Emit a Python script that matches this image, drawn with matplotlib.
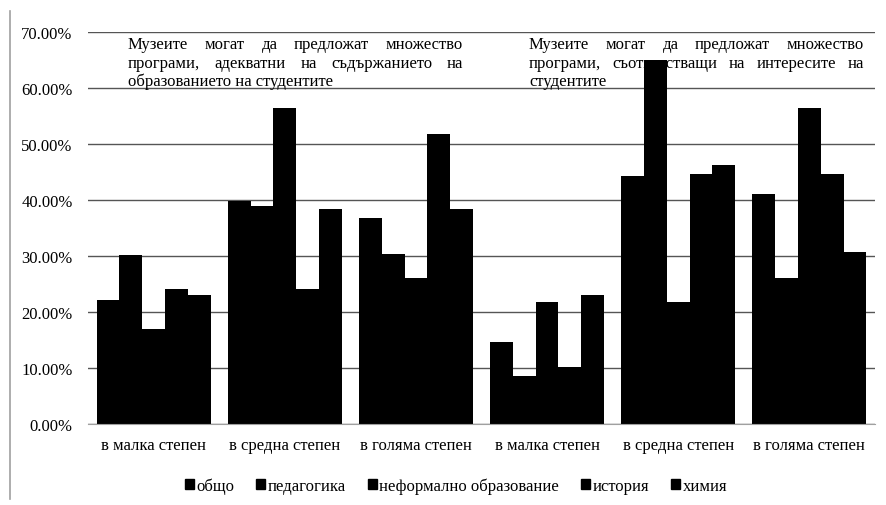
import numpy as np
import matplotlib
matplotlib.use("Agg")
import matplotlib.pyplot as plt
from matplotlib.patches import Patch
from matplotlib.lines import Line2D

plt.rcParams['font.family'] = ['Liberation Serif', 'DejaVu Serif']

categories = ["в малка степен", "в средна степен", "в голяма степен",
              "в малка степен", "в средна степен", "в голяма степен"]
series_names = ["общо", "педагогика", "неформално образование", "история", "химия"]

# values in percent, one list per series (6 groups)
obshto = [22.1, 39.9, 36.8, 14.7, 44.3, 41.0]
pedagogika = [30.1, 39.0, 30.3, 8.6, 65.0, 26.0]
neformalno = [17.0, 56.5, 26.0, 21.8, 21.8, 56.5]
istoria = [24.1, 24.1, 51.7, 10.25, 44.7, 44.7]
himia = [23.1, 38.4, 38.4, 23.1, 46.2, 30.7]
series = [obshto, pedagogika, neformalno, istoria, himia]

yticks = [0, 10, 20, 30, 40, 50, 60, 70]

note_left = [
    "Музеите могат да предложат множество",
    "програми, адекватни на съдържанието на",
    "образованието на студентите",
]
note_right = [
    "Музеите могат да предложат множество",
    "програми, съответстващи на интересите на",
    "студентите",
]

W, H = 886, 506
fig = plt.figure(figsize=(W / 100, H / 100), dpi=100)
ax = fig.add_axes([88 / W, 1 - 425 / H, (875 - 88) / W, (425 - 33) / H])

x = np.arange(len(categories))
bw = 0.87 / len(series)
for i, vals in enumerate(series):
    ax.bar(x - 0.435 + bw * (i + 0.5), vals, width=bw, color='black',
           label=series_names[i], zorder=3)

ax.set_xlim(-0.5, len(categories) - 0.5)
ax.set_ylim(0, 70)
ax.set_yticks(yticks)
ax.set_yticklabels([f"{v:.2f}%" for v in yticks], fontsize=12)
ax.set_xticks(x)
ax.set_xticklabels(categories, fontsize=12)
ax.tick_params(length=0)
ax.tick_params(axis='y', pad=11)
ax.tick_params(axis='x', pad=9)
ax.yaxis.grid(True, color='#555555', linewidth=1)
ax.set_axisbelow(True)
for s in ['left', 'right', 'top']:
    ax.spines[s].set_visible(False)
ax.spines['bottom'].set_color('#a0a0a0')
ax.spines['bottom'].set_zorder(4)

# chart border line on the left
fig.add_artist(Line2D([9.5 / W, 9.5 / W], [1 - 12 / H, 1 - 500 / H],
                      color='#a0a0a0', linewidth=1.2))

# justified notes
renderer = fig.canvas.get_renderer()


def word_width(word, size):
    t = fig.text(0, 0, word, fontsize=size)
    w = t.get_window_extent(renderer).width
    t.remove()
    return w


def draw_note(lines, x0, x1, y0, step, size=12):
    for k, line in enumerate(lines):
        y = 1 - (y0 + k * step) / H
        words = line.split()
        if k == len(lines) - 1 or len(words) == 1:
            fig.text(x0 / W, y, line, fontsize=size, va='center', zorder=1)
            continue
        widths = [word_width(w, size) for w in words]
        gap = (x1 - x0 - sum(widths)) / (len(words) - 1)
        pos = x0
        for w, ww in zip(words, widths):
            fig.text(pos / W, y, w, fontsize=size, va='center', zorder=1)
            pos += ww + gap


draw_note(note_left, 128, 463, 45, 18.5)
draw_note(note_right, 529, 864, 45, 18.5)

handles = [Patch(color='black') for _ in series_names]
fig.legend(handles, series_names, loc='center', bbox_to_anchor=(456 / W, 1 - 487 / H),
           ncol=5, frameon=False, fontsize=12, handlelength=0.55, handleheight=0.55,
           handletextpad=0.15, columnspacing=1.3)

fig.savefig("out.png", dpi=100)
